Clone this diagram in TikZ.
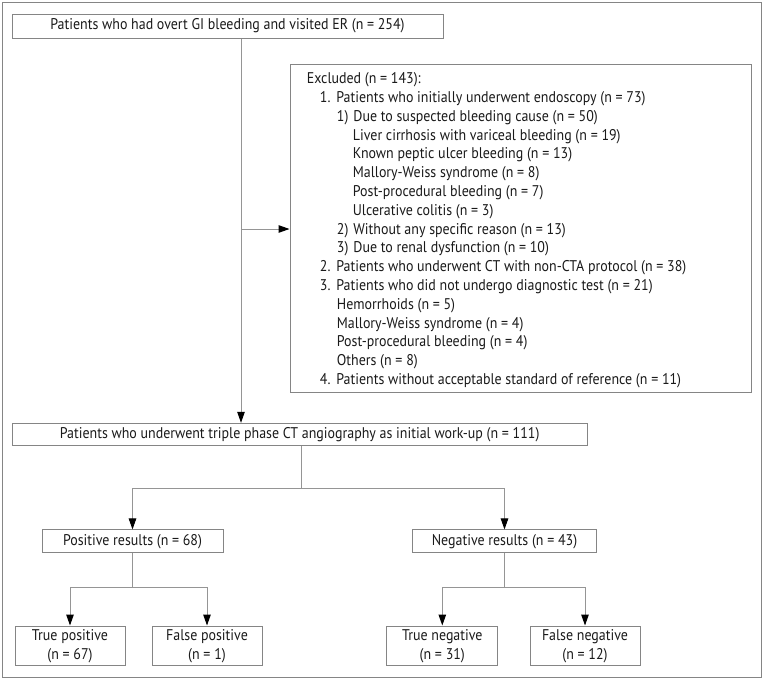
\documentclass[tikz,border=0pt]{standalone}
\usepackage{fontspec}
\setmainfont{PT Sans}[FakeStretch=0.9]
\usetikzlibrary{arrows.meta}
\definecolor{boxgray}{HTML}{858585}
\definecolor{linegray}{HTML}{959595}
\definecolor{txt}{HTML}{1A1A1A}
\newcommand\exitem[2]{\hspace*{#1}\makebox[16.5pt][l]{#2}}
\tikzset{
  box/.style={draw=boxgray, line width=1pt, inner sep=0pt, text=txt, align=center},
  ln/.style={draw=linegray, line width=1pt},
  arr/.style={ln, -{Triangle[length=11pt,width=7.5pt,color=black]}},
  frame/.style={draw=boxgray, line width=1pt}
}
\begin{document}
\begin{tikzpicture}[x=1pt, y=-1pt, font=\fontsize{15.5}{18.8}\selectfont]
\useasboundingbox (0,0) rectangle (764,681);
\draw[frame] (2.5,2) rectangle (761,677.5);

\node[box, minimum width=431pt, minimum height=24pt] (top) at (227.5,26)
  {Patients who had overt GI bleeding and visited ER (n = 254)};

\node[box, minimum width=461.7pt, minimum height=328pt] (excl) at (520.85,228) {};
\node[anchor=north west, inner sep=0pt, align=left, text=txt] (excltext) at (306.7,72.5) {%
Excluded (n = 143):\\
\exitem{13pt}{1.}Patients who initially underwent endoscopy (n = 73)\\
\exitem{30pt}{1)}Due to suspected bleeding cause (n = 50)\\
\hspace*{46pt}Liver cirrhosis with variceal bleeding (n = 19)\\
\hspace*{46pt}Known peptic ulcer bleeding (n = 13)\\
\hspace*{46pt}Mallory-Weiss syndrome (n = 8)\\
\hspace*{46pt}Post-procedural bleeding (n = 7)\\
\hspace*{46pt}Ulcerative colitis (n = 3)\\
\exitem{30pt}{2)}Without any specific reason (n = 13)\\
\exitem{30pt}{3)}Due to renal dysfunction (n = 10)\\
\exitem{13pt}{2.}Patients who underwent CT with non-CTA protocol (n = 38)\\
\exitem{13pt}{3.}Patients who did not undergo diagnostic test (n = 21)\\
\hspace*{30pt}Hemorrhoids (n = 5)\\
\hspace*{30pt}Mallory-Weiss syndrome (n = 4)\\
\hspace*{30pt}Post-procedural bleeding (n = 4)\\
\hspace*{30pt}Others (n = 8)\\
\exitem{13pt}{4.}Patients without acceptable standard of reference (n = 11)};

\node[box, minimum width=574.7pt, minimum height=22pt] (cta) at (299.65,434.3)
  {Patients who underwent triple phase CT angiography as initial work-up (n = 111)};

\node[box, minimum width=181pt, minimum height=22.7pt] (pos) at (132.5,541.3) {Positive results (n = 68)};
\node[box, minimum width=184pt, minimum height=22.7pt] (neg) at (504.5,541.3) {Negative results (n = 43)};

\node[box, minimum width=110pt, minimum height=39.7pt, font=\fontsize{15.5}{19}\selectfont] (tp) at (70,645.85) {True positive\\(n = 67)};
\node[box, minimum width=110pt, minimum height=39.7pt, font=\fontsize{15.5}{19}\selectfont] (fp) at (207,645.85) {False positive\\(n = 1)};
\node[box, minimum width=111pt, minimum height=39.7pt, font=\fontsize{15.5}{19}\selectfont] (tn) at (442.3,645.85) {True negative\\(n = 31)};
\node[box, minimum width=110pt, minimum height=39.7pt, font=\fontsize{15.5}{19}\selectfont] (fn) at (585,645.85) {False negative\\(n = 12)};

% connectors
\draw[arr] ([xshift=13.5pt]top.south) -- ([xshift=13.5pt]top.south |- cta.north);
\coordinate (jx) at ([xshift=13.5pt]top.south |- 0,229);
\draw[arr] (jx) -- (jx -| excl.west);

\draw[ln] ([xshift=2pt]cta.south) -- ++(0,42.7) coordinate (b1);
\draw[arr] (b1) -| (pos.north);
\draw[arr] (b1) -| (neg.north);

\draw[ln] (pos.south) -- ++(0,34.6) coordinate (b2);
\draw[arr] (b2) -| (tp.north);
\draw[arr] (b2) -| (fp.north);

\draw[ln] (neg.south) -- ++(0,34.6) coordinate (b3);
\draw[arr] (b3) -| (tn.north);
\draw[arr] (b3) -| (fn.north);
\end{tikzpicture}
\end{document}
